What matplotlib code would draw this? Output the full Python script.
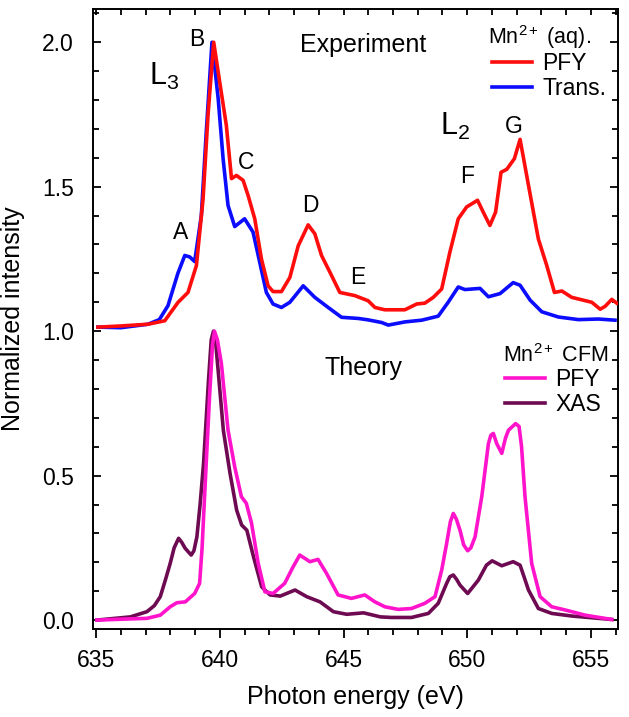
import numpy as np
import matplotlib
matplotlib.use('Agg')
import matplotlib.pyplot as plt
from matplotlib.ticker import MultipleLocator

plt.rcParams['font.family'] = ['Liberation Sans', 'DejaVu Sans']
plt.rcParams['mathtext.fontset'] = 'custom'
plt.rcParams['mathtext.rm'] = 'Liberation Sans'
plt.rcParams['mathtext.it'] = 'Liberation Sans:italic'

# ---- experiment (offset by +1) ----
exp_pfy_x = [635.07, 636.0, 637.09, 637.77, 638.31, 638.71, 639.05, 639.32, 639.52, 639.75,
             639.99, 640.26, 640.47, 640.67, 640.94, 641.14, 641.41, 641.68, 641.95, 642.15,
             642.49, 642.83, 643.17, 643.57, 643.84, 644.11, 644.45, 644.85, 645.46, 646.0,
             646.27, 646.67, 647.48, 647.96, 648.29, 648.63, 648.97, 649.3, 649.64, 649.98,
             650.42, 650.65, 650.92, 651.15, 651.37, 651.6, 651.91, 652.14, 652.48, 652.88,
             653.22, 653.53, 653.83, 654.23, 655.04, 655.38, 655.58, 655.85, 656.05]
exp_pfy_y = [1.014, 1.018, 1.024, 1.036, 1.10, 1.134, 1.227, 1.458, 1.748, 2.0,
             1.864, 1.713, 1.528, 1.539, 1.522, 1.47, 1.389, 1.25, 1.157, 1.137,
             1.137, 1.186, 1.296, 1.368, 1.337, 1.262, 1.204, 1.134, 1.123, 1.105,
             1.082, 1.074, 1.074, 1.094, 1.097, 1.117, 1.146, 1.273, 1.389, 1.43,
             1.453, 1.412, 1.366, 1.412, 1.55, 1.56, 1.597, 1.664, 1.505, 1.319,
             1.227, 1.134, 1.139, 1.117, 1.10, 1.076, 1.086, 1.11, 1.097]

exp_trans_x = [635.07, 636.0, 637.09, 637.55, 637.9, 638.3, 638.58, 638.78, 638.98, 639.25,
               639.45, 639.68, 639.93, 640.13, 640.33, 640.6, 641.0, 641.34, 641.61, 641.88,
               642.15, 642.49, 642.83, 643.37, 643.84, 644.38, 644.92, 645.6, 646.0, 646.54,
               646.81, 647.48, 648.16, 648.83, 649.24, 649.64, 649.91, 650.52, 650.86, 651.33,
               651.86, 652.14, 652.55, 653.02, 653.69, 654.5, 655.31, 655.98]
exp_trans_y = [1.014, 1.012, 1.024, 1.04, 1.088, 1.20, 1.262, 1.257, 1.241, 1.40,
               1.69, 2.0, 1.806, 1.597, 1.435, 1.362, 1.389, 1.343, 1.239, 1.134,
               1.094, 1.082, 1.10, 1.157, 1.117, 1.082, 1.048, 1.044, 1.039, 1.030,
               1.021, 1.032, 1.038, 1.052, 1.101, 1.153, 1.144, 1.148, 1.119, 1.13,
               1.168, 1.159, 1.107, 1.067, 1.049, 1.040, 1.042, 1.038]

# ---- theory (CFM) ----
th_xas_x = [635.03, 636.38, 637.05, 637.35, 637.59, 637.8, 637.99, 638.15, 638.33, 638.45,
            638.6, 638.84, 638.95, 639.07, 639.2, 639.34, 639.54, 639.65, 639.74, 639.84,
            639.94, 640.14, 640.41, 640.68, 640.88, 641.09, 641.36, 641.69, 642.03, 642.44,
            643.04, 643.51, 644.05, 644.59, 645.13, 645.81, 646.49, 646.94, 647.75, 648.43,
            648.83, 649.17, 649.3, 649.44, 649.58, 649.71, 650.02, 650.45, 650.78, 651.01,
            651.4, 651.86, 652.14, 652.3, 652.48, 652.88, 653.42, 654.23, 655.85]
th_xas_y = [0.0, 0.011, 0.029, 0.05, 0.081, 0.14, 0.196, 0.25, 0.283, 0.27,
            0.248, 0.225, 0.24, 0.288, 0.40, 0.542, 0.83, 0.97, 1.0, 0.95,
            0.854, 0.657, 0.508, 0.38, 0.329, 0.311, 0.219, 0.115, 0.087, 0.083,
            0.104, 0.081, 0.063, 0.029, 0.020, 0.025, 0.011, 0.009, 0.009, 0.023,
            0.058, 0.127, 0.15, 0.156, 0.14, 0.121, 0.092, 0.138, 0.19, 0.205,
            0.188, 0.202, 0.19, 0.15, 0.104, 0.04, 0.023, 0.014, 0.002]

th_pfy_x = [635.03, 637.05, 637.59, 637.99, 638.26, 638.6, 638.98, 639.18, 639.28, 639.38,
            639.58, 639.7, 639.78, 639.9, 640.06, 640.33, 640.6, 640.87, 641.07, 641.28,
            641.55, 641.82, 642.15, 642.62, 642.96, 643.23, 643.64, 643.97, 644.31, 644.78,
            645.32, 645.86, 646.27, 646.67, 647.21, 647.75, 648.29, 648.7, 648.97, 649.17,
            649.32, 649.44, 649.56, 649.71, 649.86, 650.02, 650.15, 650.32, 650.59, 650.86,
            650.96, 651.06, 651.2, 651.4, 651.55, 651.67, 651.96, 652.1, 652.2, 652.34,
            652.61, 652.95, 653.42, 653.96, 654.77, 655.85]
th_pfy_y = [0.0, 0.006, 0.017, 0.046, 0.06, 0.063, 0.092, 0.127, 0.25, 0.427,
            0.77, 0.95, 1.0, 0.97, 0.888, 0.657, 0.53, 0.427, 0.404, 0.335,
            0.196, 0.098, 0.092, 0.127, 0.184, 0.225, 0.202, 0.21, 0.162, 0.087,
            0.075, 0.087, 0.063, 0.046, 0.037, 0.040, 0.058, 0.081, 0.173, 0.265,
            0.34, 0.369, 0.35, 0.311, 0.26, 0.24, 0.25, 0.288, 0.427, 0.611,
            0.64, 0.646, 0.61, 0.577, 0.63, 0.657, 0.68, 0.67, 0.60, 0.427,
            0.196, 0.081, 0.046, 0.035, 0.017, 0.002]

# peak labels
peak_names = ['A', 'B', 'C', 'D', 'E', 'F', 'G']
peak_x = [638.4, 639.05, 641.07, 643.66, 645.57, 649.98, 651.88]
peak_y = [1.342, 2.01, 1.585, 1.436, 1.187, 1.536, 1.709]

RED = '#ff0c0c'
BLUE = '#0c0cff'
MAGENTA = '#ff14cc'
PURPLE = '#6e0a52'
LW = 2.6

fig = plt.figure(figsize=(6.29, 7.17), dpi=100)
ax = fig.add_axes([0.1483, 0.1227, 0.8342, 0.8647])

l_pfy, = ax.plot(exp_pfy_x, exp_pfy_y, color=RED, lw=LW, zorder=3)
l_tr, = ax.plot(exp_trans_x, exp_trans_y, color=BLUE, lw=LW, zorder=2)
l_tpfy, = ax.plot(th_pfy_x, th_pfy_y, color=MAGENTA, lw=LW, zorder=3)
l_xas, = ax.plot(th_xas_x, th_xas_y, color=PURPLE, lw=LW, zorder=2)

ax.set_xlim(634.88, 656.1)
ax.set_ylim(-0.031, 2.115)

ax.xaxis.set_major_locator(MultipleLocator(5))
ax.xaxis.set_minor_locator(MultipleLocator(1))
ax.yaxis.set_major_locator(MultipleLocator(0.5))
ax.yaxis.set_minor_locator(MultipleLocator(0.1))
ax.yaxis.set_major_formatter(plt.FuncFormatter(lambda v, _: f'{v:.1f}'))

ax.tick_params(axis='x', which='both', direction='out', top=True, labelsize=16.5, width=1.3, pad=8)
ax.tick_params(axis='x', which='major', length=6.5)
ax.tick_params(axis='x', which='minor', length=4.5)
ax.tick_params(axis='y', which='both', direction='in', right=True, labelsize=16.5, width=1.3, pad=14)
ax.tick_params(axis='y', which='major', length=6)
ax.tick_params(axis='y', which='minor', length=4)
# top ticks point inward
for t in ax.xaxis.get_major_ticks() + ax.xaxis.get_minor_ticks():
    t.tick2line.set_marker(3)  # TICKDOWN
    t.tick2line.set_markersize(4.5)
for s in ax.spines.values():
    s.set_linewidth(1.4)

ax.set_xlabel('Photon energy (eV)', fontsize=18, labelpad=9)
ax.set_ylabel('Normalized intensity', fontsize=18, labelpad=12)

for name, px, py in zip(peak_names, peak_x, peak_y):
    ax.text(px, py, name, fontsize=16.5, ha='center', va='center')

ax.text(637.75, 1.88, 'L$_3$', fontsize=22, ha='center', va='center')
ax.text(649.5, 1.71, 'L$_2$', fontsize=22, ha='center', va='center')
ax.text(645.8, 1.99, 'Experiment', fontsize=18, ha='center', va='center')
ax.text(645.8, 0.872, 'Theory', fontsize=18, ha='center', va='center')

# legends: titles as separate text so the rows sit like the original
ax.text(0.752, 0.944, 'Mn$^{2+}$ (aq).', fontsize=15.5, transform=ax.transAxes,
        ha='left', va='baseline')
ax.text(0.781, 0.431, 'Mn$^{2+}$ CFM', fontsize=15.5, transform=ax.transAxes,
        ha='left', va='baseline')

leg_kw = dict(frameon=False, fontsize=16.5, loc='upper left',
              handlelength=1.75, handletextpad=0.45,
              labelspacing=0.1, borderpad=0, borderaxespad=0)
leg1 = ax.legend([l_pfy, l_tr], ['PFY', 'Trans.'],
                 bbox_to_anchor=(0.76, 0.931), **leg_kw)
ax.add_artist(leg1)
ax.legend([l_tpfy, l_xas], ['PFY', 'XAS'],
          bbox_to_anchor=(0.784, 0.4215), **leg_kw)

fig.savefig('out.png', dpi=100)
